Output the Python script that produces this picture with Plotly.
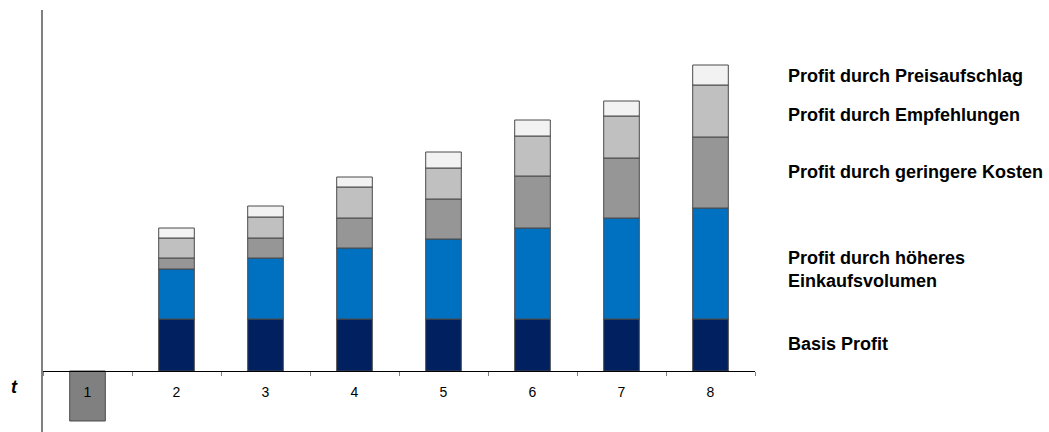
import plotly.graph_objects as go

# ---- data (units) ----
periods = ["1", "2", "3", "4", "5", "6", "7", "8"]
basis_profit = [-5.0, 5.2, 5.2, 5.2, 5.2, 5.2, 5.2, 5.2]
einkaufsvolumen = [0, 5.0, 6.1, 7.1, 8.0, 9.1, 10.1, 11.1]
geringere_kosten = [0, 1.1, 2.0, 3.0, 4.0, 5.2, 6.0, 7.1]
empfehlungen = [0, 2.0, 2.1, 3.1, 3.1, 4.0, 4.2, 5.2]
preisaufschlag = [0, 1.0, 1.1, 1.0, 1.6, 1.6, 1.5, 2.0]

series_names = [
    "Basis Profit",
    "Profit durch höheres Einkaufsvolumen",
    "Profit durch geringere Kosten",
    "Profit durch Empfehlungen",
    "Profit durch Preisaufschlag",
]
series_values = [basis_profit, einkaufsvolumen, geringere_kosten, empfehlungen, preisaufschlag]
series_colors = ["#002060", "#0070C0", "#969696", "#C0C0C0", "#F2F2F2"]
investment_color = "#808080"

W, H = 1049, 432
ml, mr, mt, mb = 43, 294, 10, 0
y_range = [-6.1, 36.1]

fig = go.Figure()
for name, vals, col in zip(series_names, series_values, series_colors):
    colors = [investment_color if v < 0 else col for v in vals]
    fig.add_trace(go.Bar(
        x=periods,
        y=[v if v != 0 else None for v in vals],
        name=name,
        marker=dict(color=colors, line=dict(color="#4a4a4a", width=1)),
        width=0.4,
        hoverinfo="skip",
    ))

zero_pos = (0 - y_range[0]) / (y_range[1] - y_range[0])

fig.update_layout(
    width=W, height=H,
    margin=dict(l=ml, r=mr, t=mt, b=mb),
    barmode="relative",
    showlegend=False,
    plot_bgcolor="white",
    paper_bgcolor="white",
    xaxis=dict(
        type="category",
        range=[-0.5, 7.5],
        anchor="free",
        position=zero_pos,
        showline=True, linecolor="black", linewidth=1,
        ticks="outside", tickson="boundaries", ticklen=4, tickcolor="#808080", tickwidth=1,
        showgrid=False,
        tickfont=dict(family="Liberation Sans, Arial", size=14, color="black"),
        ticklabelstandoff=8,
    ),
    yaxis=dict(
        range=y_range,
        showline=True, linecolor="#808080", linewidth=2,
        showticklabels=False, ticks="", showgrid=False, zeroline=False,
    ),
)

plot_w = W - ml - mr
plot_h = H - mt - mb

def px_to_paper_x(px):
    return (px - ml) / plot_w

def px_to_paper_y(py):
    return (H - mb - py) / plot_h

label_font = dict(family="Liberation Sans, Arial", size=18, color="black")
labels = [
    ("<b>Profit durch Preisaufschlag</b>", 76),
    ("<b>Profit durch Empfehlungen</b>", 115),
    ("<b>Profit durch geringere Kosten</b>", 172),
    ("<b>Profit durch höheres</b>", 258),
    ("<b>Einkaufsvolumen</b>", 281),
    ("<b>Basis Profit</b>", 344),
]
for text, py in labels:
    fig.add_annotation(
        text=text, xref="paper", yref="paper",
        x=px_to_paper_x(786), y=px_to_paper_y(py),
        xanchor="left", yanchor="middle", showarrow=False,
        font=label_font,
    )

fig.add_annotation(
    text="<b><i>t</i></b>", xref="paper", yref="paper",
    x=px_to_paper_x(14), y=px_to_paper_y(387),
    xanchor="center", yanchor="middle", showarrow=False,
    font=dict(family="Liberation Sans, Arial", size=18, color="black"),
)

fig.write_html("out.html")
